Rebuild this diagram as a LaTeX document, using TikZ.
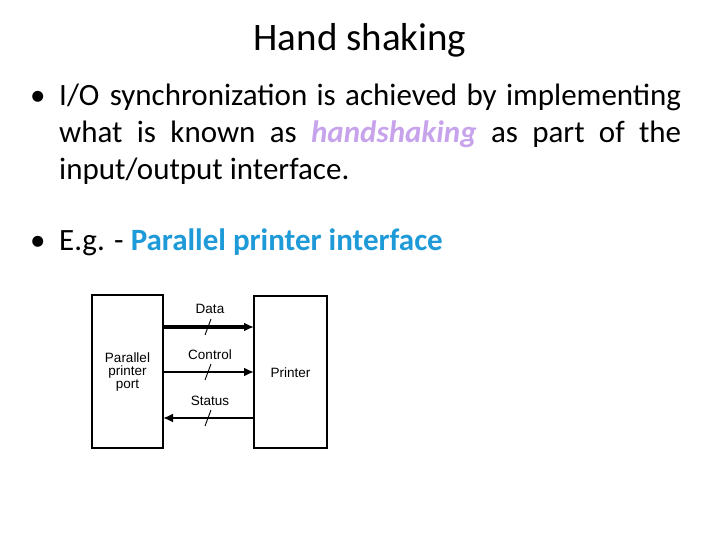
\documentclass[tikz,border=0pt]{standalone}
\usepackage{fontspec}
\setmainfont{Carlito}
\newfontfamily\diafont{Liberation Sans}
\usetikzlibrary{positioning,arrows.meta}
\definecolor{lavender}{HTML}{C7A3EC}
\definecolor{skyblue}{HTML}{1E9AD8}
\begin{document}
\begin{tikzpicture}[x=1pt,y=-1pt,
  blk/.style={draw,line width=1.3pt},
  sig/.style={line width=2.8pt,-{Latex[length=10pt,width=9pt]}},
  tick/.style={line width=0.9pt},
  body/.style={anchor=base west,inner sep=0pt,font=\fontsize{31}{37}\selectfont},
  lbl/.style={font=\diafont\fontsize{13.5}{14}\selectfont,align=center}]
\useasboundingbox (0,0) rectangle (720,540);
% title and bullets
\node (title) at (360,40) {\fontsize{39}{44}\selectfont Hand shaking};
\node[body] (dot1) at (30,106) {\textbullet};
\node[body] (line1) at (59,106) {\makebox[622pt][s]{I/O\hspace{-1pt} synchronization\hspace{-2pt} is\hspace{-2pt} achieved\hspace{-2pt} by\hspace{-2pt} implementing}};
\node[body] (line2) at (59,143) {\makebox[622pt][s]{what is known as {\color{lavender}\bfseries\itshape handshaking} as part of the}};
\node[body] (line3) at (59,180) {input/output interface.};
\node[body] (dot2) at (30,251) {\textbullet};
\node[body] (line4) at (59,251) {E.g. - {\color{skyblue}\bfseries Parallel printer interface}};
% block diagram
\draw[blk] (92,295) rectangle (163,448);
\draw[blk] (254,296) rectangle (327,448);
\node[lbl] (port) at (127.5,372) {Parallel\\[-1pt]printer\\[-1pt]port};
\node[lbl] (printer) at (290.5,373) {Printer};
\coordinate (d1) at (163,327); \coordinate (d2) at (254,327);
\coordinate (c1) at (163,372); \coordinate (c2) at (254,372);
\coordinate (s1) at (163,418); \coordinate (s2) at (254,418);
\draw[sig,line width=3.3pt] (d1) -- (d2);
\draw[sig] (c1) -- (c2);
\draw[sig] (s2) -- (s1);
\foreach \y in {327,372,418}
  \draw[tick] (205,\y+8) -- (211,\y-8);
\node[lbl] (data) at (210,309) {Data};
\node[lbl] (control) at (210,355) {Control};
\node[lbl] (status) at (210,401) {Status};
\end{tikzpicture}
\end{document}
